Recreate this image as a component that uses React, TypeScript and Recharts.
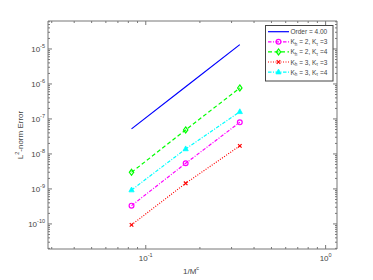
import { LineChart, Line, XAxis, YAxis, Label } from "recharts";

// grid values (1/M^c)
const steps = [1 / 12, 1 / 6, 1 / 3];

// errors
const orderRef = [5.2e-8, 8.3e-7, 1.33e-5];
const kh2kt3 = [3.33e-10, 5.4e-9, 8.0e-8];
const kh2kt4 = [2.98e-9, 4.85e-8, 7.7e-7];
const kh3kt3 = [9.4e-11, 1.45e-9, 1.7e-8];
const kh3kt4 = [9.3e-10, 1.39e-8, 1.6e-7];

const xDecades = [0.01, 0.1, 1];
const yDecades = [1e-11, 1e-10, 1e-9, 1e-8, 1e-7, 1e-6, 1e-5, 1e-4];
const mantissas = [1, 2, 3, 4, 5, 6, 7, 8, 9];

const xDomain = [0.0286, 1.157];
const yDomain = [1.92e-11, 6.3e-5];

const data = steps.map((x, i) => ({
  x,
  order: orderRef[i],
  k23: kh2kt3[i],
  k24: kh2kt4[i],
  k33: kh3kt3[i],
  k34: kh3kt4[i],
}));

const allTicks = (decades: number[], dom: number[]) =>
  decades
    .flatMap((d) => mantissas.map((m) => m * d))
    .filter((v) => v >= dom[0] && v <= dom[1]);

const xTicks = allTicks(xDecades, xDomain);
const yTicks = allTicks(yDecades, yDomain);

const isMajor = (v: number) => {
  const l = Math.log10(v);
  return Math.abs(l - Math.round(l)) < 1e-6;
};

const AXIS = "#777";
const TXT = "#444";
const FONT = "'Liberation Sans', Arial, sans-serif";

const Pow = ({ x, y, v, anchor }: any) => (
  <text x={x} y={y} textAnchor={anchor} fill={TXT} fontSize={8} fontFamily={FONT}>
    <tspan>10</tspan>
    <tspan dy={-4} fontSize={5.5}>
      {Math.round(Math.log10(v))}
    </tspan>
  </text>
);

const LeftTick = ({ x, y, payload }: any) => {
  const major = isMajor(payload.value);
  return (
    <g>
      <line x1={x} x2={x + (major ? 4 : 2)} y1={y} y2={y} stroke={AXIS} />
      {major && <Pow x={x - 3} y={y + 3} v={payload.value} anchor="end" />}
    </g>
  );
};

const RightTick = ({ x, y, payload }: any) => (
  <line x1={x} x2={x - (isMajor(payload.value) ? 4 : 2)} y1={y} y2={y} stroke={AXIS} />
);

const BottomTick = ({ x, y, payload }: any) => {
  const major = isMajor(payload.value);
  return (
    <g>
      <line x1={x} x2={x} y1={y} y2={y - (major ? 4 : 2)} stroke={AXIS} />
      {major && <Pow x={x} y={y + 12} v={payload.value} anchor="middle" />}
    </g>
  );
};

const TopTick = ({ x, y, payload }: any) => (
  <line x1={x} x2={x} y1={y} y2={y + (isMajor(payload.value) ? 4 : 2)} stroke={AXIS} />
);

const circle = (c: string) => (p: any) => (
  <circle key={p.index} cx={p.cx} cy={p.cy} r={2.4} fill="none" stroke={c} strokeWidth={1.2} />
);
const diamond = (c: string) => (p: any) => (
  <polygon
    key={p.index}
    points={`${p.cx},${p.cy - 3} ${p.cx + 2.2},${p.cy} ${p.cx},${p.cy + 3} ${p.cx - 2.2},${p.cy}`}
    fill="none"
    stroke={c}
    strokeWidth={1.2}
  />
);
const cross = (c: string) => (p: any) => (
  <path
    key={p.index}
    d={`M${p.cx - 1.8},${p.cy - 1.8}L${p.cx + 1.8},${p.cy + 1.8}M${p.cx - 1.8},${p.cy + 1.8}L${p.cx + 1.8},${p.cy - 1.8}`}
    stroke={c}
    strokeWidth={1.2}
  />
);
const triangle = (c: string) => (p: any) => (
  <polygon
    key={p.index}
    points={`${p.cx},${p.cy - 3} ${p.cx + 2.6},${p.cy + 1.8} ${p.cx - 2.6},${p.cy + 1.8}`}
    fill={c}
    stroke={c}
    strokeWidth={0.8}
  />
);

const series = [
  { key: "order", label: ["Order = 4.00"], color: "#0000ff", dash: undefined, dot: null },
  { key: "k23", label: ["2", "3"], color: "#ff00ff", dash: "3.5 1.5 1 1.5", dot: circle },
  { key: "k24", label: ["2", "4"], color: "#00ff00", dash: "4 2.5", dot: diamond },
  { key: "k33", label: ["3", "3"], color: "#ff0000", dash: "1 1.5", dot: cross },
  { key: "k34", label: ["3", "4"], color: "#00ffff", dash: "3.5 1.5 1 1.5", dot: triangle },
];

const LegendBox = () => (
  <svg
    width={69}
    height={57}
    style={{ position: "absolute", left: 265, top: 25 }}
  >
    <rect x={0.5} y={0.5} width={67.5} height={55.5} fill="#fff" stroke="#444" />
    {series.map((s, i) => {
      const y = 6.7 + i * 10.1;
      const Dot = s.dot ? s.dot(s.color) : null;
      return (
        <g key={s.key}>
          <line x1={3} x2={24} y1={y} y2={y} stroke={s.color} strokeWidth={1.2} strokeDasharray={s.dash} />
          {Dot && Dot({ cx: 13.5, cy: y, index: 0 })}
          <text x={25.5} y={y + 2.5} fontSize={6.5} fontFamily={FONT} fill={TXT}>
            {s.label.length === 1 ? (
              s.label[0]
            ) : (
              <>
                <tspan>K</tspan>
                <tspan dy={1.5} fontSize={4.5}>h</tspan>
                <tspan dy={-1.5}>{` = ${s.label[0]}, K`}</tspan>
                <tspan dy={1.5} fontSize={4.5}>τ</tspan>
                <tspan dy={-1.5}>{` =${s.label[1]}`}</tspan>
              </>
            )}
          </text>
        </g>
      );
    })}
  </svg>
);

export default function App() {
  return (
    <div style={{ position: "relative", width: 373, height: 280, background: "#fff" }}>
      <style>{`body{margin:0}`}</style>
      <LineChart
        width={373}
        height={280}
        data={data}
        margin={{ top: 20, right: 35, bottom: 30, left: 47 }}
      >
        <XAxis
          xAxisId="b"
          dataKey="x"
          type="number"
          scale="log"
          domain={xDomain}
          allowDataOverflow
          ticks={xTicks}
          interval={0}
          height={1}
          tickSize={0}
          tickMargin={0}
          tick={<BottomTick />}
          stroke={AXIS}
        >
          <Label
            content={() => (
              <text x={191} y={274} textAnchor="middle" fontSize={8} fontFamily={FONT} fill={TXT}>
                <tspan>1/M</tspan>
                <tspan dy={-4} fontSize={5.5}>c</tspan>
              </text>
            )}
          />
        </XAxis>
        <XAxis
          xAxisId="t"
          orientation="top"
          dataKey="x"
          type="number"
          scale="log"
          domain={xDomain}
          allowDataOverflow
          ticks={xTicks}
          interval={0}
          height={1}
          tickSize={0}
          tickMargin={0}
          tick={<TopTick />}
          stroke={AXIS}
        />
        <YAxis
          yAxisId="l"
          type="number"
          scale="log"
          domain={yDomain}
          allowDataOverflow
          ticks={yTicks}
          interval={0}
          width={1}
          tickSize={0}
          tickMargin={0}
          tick={<LeftTick />}
          stroke={AXIS}
        >
          <Label
            content={() => (
              <text
                x={23}
                y={135}
                transform="rotate(-90 23 135)"
                textAnchor="middle"
                fontSize={8}
                fontFamily={FONT}
                fill={TXT}
              >
                <tspan>L</tspan>
                <tspan dy={-4} fontSize={5.5}>2</tspan>
                <tspan dy={4}>-norm Error</tspan>
              </text>
            )}
          />
        </YAxis>
        <YAxis
          yAxisId="r"
          orientation="right"
          type="number"
          scale="log"
          domain={yDomain}
          allowDataOverflow
          ticks={yTicks}
          interval={0}
          width={1}
          tickSize={0}
          tickMargin={0}
          tick={<RightTick />}
          stroke={AXIS}
        />
        {series.map((s) => (
          <Line
            key={s.key}
            xAxisId="b"
            yAxisId="l"
            dataKey={s.key}
            stroke={s.color}
            strokeWidth={1.2}
            strokeDasharray={s.dash}
            dot={s.dot ? s.dot(s.color) : false}
            activeDot={false}
            type="linear"
            isAnimationActive={false}
          />
        ))}
      </LineChart>
      <LegendBox />
    </div>
  );
}
